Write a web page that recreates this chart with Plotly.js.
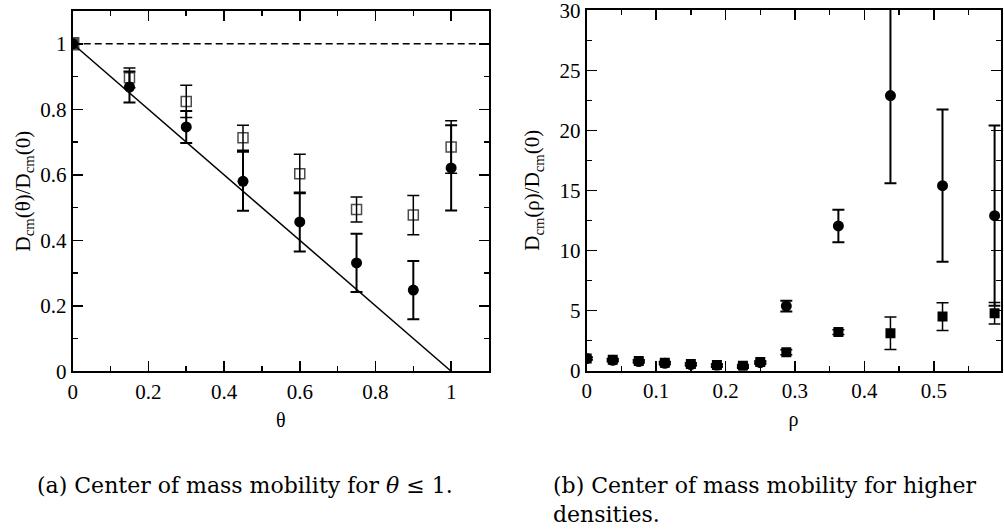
<!DOCTYPE html>
<html>
<head>
<meta charset="utf-8">
<script src="https://cdn.plot.ly/plotly-3.0.1.min.js"></script>
<style>html,body{margin:0;padding:0;background:#fff;}#chart{width:1004px;height:529px;}</style>
</head>
<body>
<div id="chart"></div>
<script>
// ---- Panel (a): mobility vs theta ----
const thetaVals = [0, 0.15, 0.3, 0.45, 0.6, 0.75, 0.9, 1.0];
const circTheta = [1.0, 0.868, 0.746, 0.580, 0.456, 0.331, 0.248, 0.621];
const circThetaErr = [0, 0.047, 0.049, 0.090, 0.090, 0.089, 0.089, 0.130];
const sqTheta = [1.0, 0.896, 0.824, 0.713, 0.603, 0.494, 0.477, 0.685];
const sqThetaErr = [0, 0.030, 0.049, 0.038, 0.060, 0.038, 0.060, 0.080];
const refLineX = [0, 1];
const refLineY = [1, 0];
const unitLineX = [0, 1.1];
const unitLineY = [1, 1];

// ---- Panel (b): mobility vs rho ----
const rhoVals = [0, 0.0375, 0.075, 0.1125, 0.15, 0.1875, 0.225, 0.25, 0.2875, 0.3625, 0.4375, 0.5125, 0.5875];
const circRho = [1.0, 0.85, 0.75, 0.6, 0.5, 0.4, 0.3, 0.65, 5.37, 12.04, 22.9, 15.4, 12.9];
const circRhoErr = [0.1, 0.1, 0.1, 0.1, 0.1, 0.1, 0.1, 0.1, 0.45, 1.35, 7.3, 6.35, 7.5];
const sqRho = [1.0, 0.9, 0.8, 0.65, 0.55, 0.45, 0.4, 0.7, 1.52, 3.2, 3.1, 4.49, 4.77];
const sqRhoErr = [0.1, 0.1, 0.1, 0.1, 0.1, 0.1, 0.1, 0.1, 0.2, 0.2, 1.35, 1.15, 0.9];

const captionA = '(a) Center of mass mobility for <i>θ</i> ≤ 1.';
const captionB = '(b) Center of mass mobility for higher<br>densities.';

const W = 1004, H = 529;
const px = v => v / W;
const py = v => (H - v) / H;

const serif = '"Liberation Serif"';
const capSerif = '"DejaVu Serif"';
const tickFont = {family: serif, size: 21, color: '#000'};

function errCfg(arr, thick) {
  return {type: 'data', array: arr, visible: true, color: '#000', thickness: thick, width: 6};
}

const traces = [
  {x: unitLineX, y: unitLineY, xaxis: 'x', yaxis: 'y', mode: 'lines',
   line: {color: '#000', width: 1.5, dash: '7px,4px'}, hoverinfo: 'skip', showlegend: false},
  {x: refLineX, y: refLineY, xaxis: 'x', yaxis: 'y', mode: 'lines',
   line: {color: '#000', width: 1.5}, hoverinfo: 'skip', showlegend: false},
  {x: thetaVals, y: sqTheta, xaxis: 'x', yaxis: 'y', mode: 'markers', type: 'scatter',
   error_y: errCfg(sqThetaErr, 1.5),
   marker: {symbol: thetaVals.map((t, i) => i === 0 ? 'square' : 'square-open'),
            size: thetaVals.map((t, i) => i === 0 ? 12 : 10), color: '#000',
            line: {color: '#000', width: 1.5}}, showlegend: false},
  {x: thetaVals, y: circTheta, xaxis: 'x', yaxis: 'y', mode: 'markers', type: 'scatter',
   error_y: errCfg(circThetaErr, 2),
   marker: {symbol: 'circle', size: 11, color: '#000'}, showlegend: false},
  {x: rhoVals, y: sqRho, xaxis: 'x2', yaxis: 'y2', mode: 'markers', type: 'scatter',
   error_y: errCfg(sqRhoErr, 1.5),
   marker: {symbol: 'square', size: 10, color: '#000'}, showlegend: false},
  {x: rhoVals, y: circRho, xaxis: 'x2', yaxis: 'y2', mode: 'markers', type: 'scatter',
   error_y: errCfg(circRhoErr, 2),
   marker: {symbol: 'circle', size: 11, color: '#000'}, showlegend: false}
];

function axisBase(extra) {
  return Object.assign({
    showline: true, linecolor: '#000', linewidth: 2, mirror: 'ticks',
    ticks: 'inside', ticklen: 10, tickwidth: 1.5, tickcolor: '#000',
    showgrid: false, zeroline: false, tickfont: tickFont, automargin: false,
    ticklabeloverflow: 'allow'
  }, extra);
}

const layout = {
  width: W, height: H,
  margin: {l: 0, r: 0, t: 0, b: 0},
  paper_bgcolor: '#fff', plot_bgcolor: '#fff',
  showlegend: false,
  font: {family: serif, color: '#000'},
  xaxis: axisBase({domain: [px(72.7), px(489)], range: [0, 1.1], anchor: 'y',
    tick0: 0, dtick: 0.2,
    minor: {dtick: 0.1, ticklen: 5, tickwidth: 1.5, tickcolor: '#000', ticks: 'inside'},
    title: {text: 'θ', font: {family: serif, size: 20, color: '#000'}, standoff: 10}}),
  yaxis: axisBase({domain: [py(371.3), py(11)], range: [0, 1.1], anchor: 'x',
    tick0: 0, dtick: 0.2,
    minor: {dtick: 0.1, ticklen: 5, tickwidth: 1.5, tickcolor: '#000', ticks: 'inside'},
    title: {text: 'D<sub>cm</sub>(θ)/D<sub>cm</sub>(0)', font: {family: serif, size: 21, color: '#000'}, standoff: 4}}),
  xaxis2: axisBase({domain: [px(586.7), px(1000.5)], range: [0, 0.596], anchor: 'y2',
    tick0: 0, dtick: 0.1,
    minor: {dtick: 0.05, ticklen: 5, tickwidth: 1.5, tickcolor: '#000', ticks: 'inside'},
    title: {text: 'ρ', font: {family: serif, size: 20, color: '#000'}, standoff: 10}}),
  yaxis2: axisBase({domain: [py(370.5), py(10)], range: [0, 30.03], anchor: 'x2',
    tick0: 0, dtick: 5,
    minor: {dtick: 2.5, ticklen: 5, tickwidth: 1.5, tickcolor: '#000', ticks: 'inside'},
    title: {text: 'D<sub>cm</sub>(ρ)/D<sub>cm</sub>(0)', font: {family: serif, size: 21, color: '#000'}, standoff: 14}}),
  annotations: [
    {text: captionA, xref: 'paper', yref: 'paper', x: px(35), y: py(485), xanchor: 'left', yanchor: 'middle',
     showarrow: false, align: 'left', font: {family: capSerif, size: 22, color: '#000'}},
    {text: captionB, xref: 'paper', yref: 'paper', x: px(551), y: py(500), xanchor: 'left', yanchor: 'middle',
     showarrow: false, align: 'left', font: {family: capSerif, size: 22, color: '#000'}}
  ]
};

Plotly.newPlot('chart', traces, layout, {staticPlot: true, displayModeBar: false});
</script>
</body>
</html>
